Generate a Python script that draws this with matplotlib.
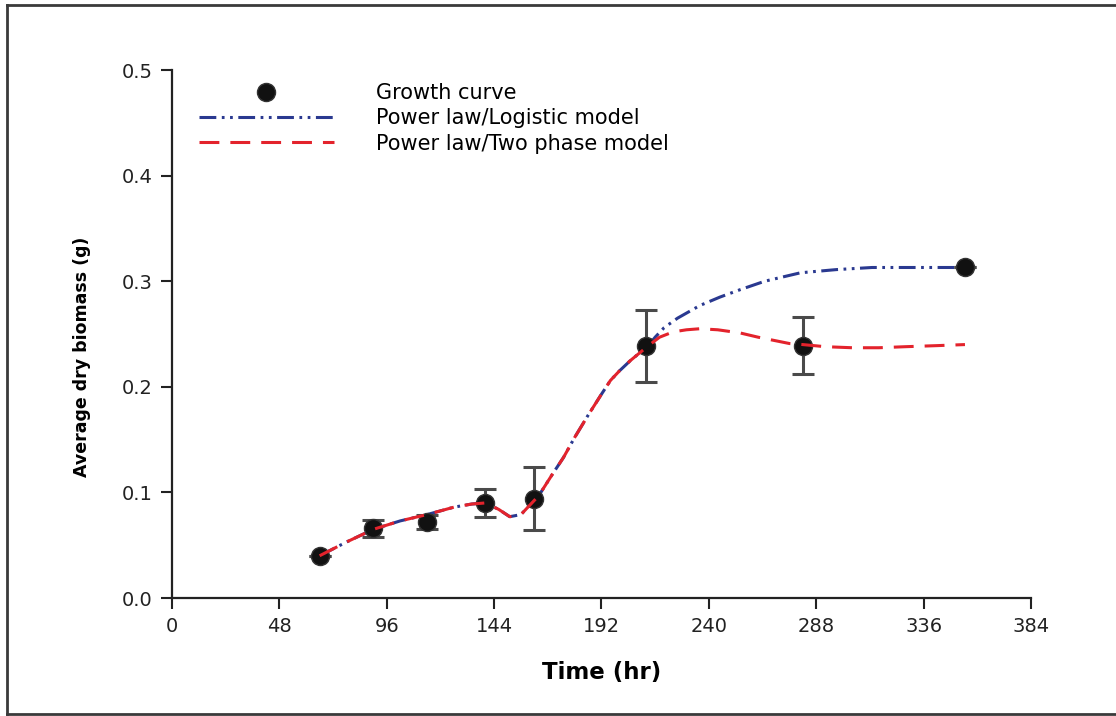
import matplotlib.pyplot as plt
from matplotlib.lines import Line2D

# Measured growth (mean dry biomass with error)
time_hr = [66, 90, 114, 140, 162, 212, 282, 354.5]
biomass_g = [0.040, 0.066, 0.072, 0.090, 0.094, 0.239, 0.239, 0.313]
biomass_err = [0.0, 0.008, 0.007, 0.013, 0.030, 0.034, 0.027, 0.0]

# Shared early part of both fitted curves
early_t = [66, 78, 90, 102, 114, 126, 134, 140, 146, 151, 156, 160, 164,
           170, 175, 180, 186, 192, 196, 200, 205, 209, 213]
early_y = [0.040, 0.053, 0.065, 0.073, 0.079, 0.086, 0.089, 0.090, 0.084,
           0.077, 0.079, 0.088, 0.097, 0.117, 0.133, 0.152, 0.173, 0.193,
           0.206, 0.215, 0.225, 0.232, 0.239]

# Power law / logistic model after 213 hr
logistic_t = [216, 220, 226, 236, 245, 254, 265, 281, 297, 313, 335, 354.5]
logistic_y = [0.247, 0.256, 0.265, 0.277, 0.285, 0.292, 0.300, 0.308,
              0.311, 0.313, 0.313, 0.313]

# Power law / two phase model after 213 hr
twophase_t = [218, 224, 230, 236, 244, 254, 262, 269, 276, 282, 292, 304,
              316, 328, 342, 354.5]
twophase_y = [0.247, 0.252, 0.254, 0.255, 0.254, 0.251, 0.247, 0.244,
              0.241, 0.240, 0.238, 0.237, 0.237, 0.238, 0.239, 0.240]

x_ticks = [0, 48, 96, 144, 192, 240, 288, 336, 384]
y_ticks = [0.0, 0.1, 0.2, 0.3, 0.4, 0.5]

fig = plt.figure(figsize=(11.16, 7.16), dpi=100)
ax = fig.add_axes([0.1541, 0.1648, 0.7697, 0.7374])

blue = '#2a3990'
red = '#e3232c'

ax.plot(early_t + logistic_t, early_y + logistic_y, color=blue, lw=2.2,
        linestyle=(0, (5.5, 1.8, 0.9, 1.8, 0.9, 1.8)), zorder=2,
        label='Power law/Logistic model')

ax.errorbar(time_hr, biomass_g, yerr=biomass_err, fmt='none',
            ecolor='#4a4a4a', elinewidth=2.2, capsize=8, capthick=2.2,
            zorder=3)
ax.plot(time_hr, biomass_g, 'o', color='#111111', markersize=13,
        markeredgecolor='#333333', zorder=4, label='Growth curve')

ax.plot(early_t + twophase_t, early_y + twophase_y, color=red, lw=2.2,
        linestyle=(0, (6.5, 3.6)), zorder=5,
        label='Power law/Two phase model')

ax.set_xlim(0, 384)
ax.set_ylim(0, 0.5)
ax.set_xticks(x_ticks)
ax.set_yticks(y_ticks)
ax.set_yticklabels([f'{v:.1f}' for v in y_ticks])
ax.tick_params(direction='out', length=8, width=1.5, labelsize=14,
               colors='#222222', pad=6)
for side in ['top', 'right']:
    ax.spines[side].set_visible(False)
for side in ['left', 'bottom']:
    ax.spines[side].set_linewidth(1.6)
    ax.spines[side].set_color('#222222')

ax.set_xlabel('Time (hr)', fontsize=16.5, fontweight='bold', labelpad=18)
ax.set_ylabel('Average dry biomass (g)', fontsize=12.5, fontweight='bold')
ax.yaxis.set_label_coords(-0.094, 0.456)

handles, labels = ax.get_legend_handles_labels()
order = [1, 0, 2]
leg = ax.legend([handles[i] for i in order], [labels[i] for i in order],
                loc='upper left', bbox_to_anchor=(0.031, 0.975),
                frameon=False, fontsize=15, handlelength=6.5,
                handletextpad=2.0, labelspacing=0.25, borderpad=0,
                borderaxespad=0)

# Outer frame around the figure
frame_kw = dict(color='#3a3a3a', lw=2, transform=fig.transFigure)
fig.add_artist(Line2D([0.0065, 0.0065], [0.003, 0.993], **frame_kw))
fig.add_artist(Line2D([0.0065, 1.0], [0.993, 0.993], **frame_kw))
fig.add_artist(Line2D([0.0065, 1.0], [0.003, 0.003], **frame_kw))

fig.savefig('out.png', dpi=100)
